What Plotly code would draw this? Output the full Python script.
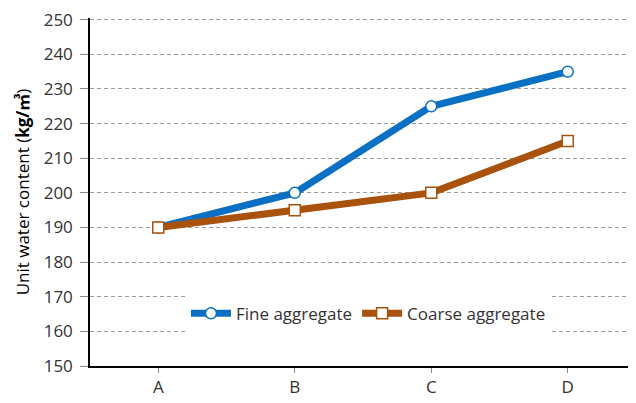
import plotly.graph_objs as go

categories = ['A', 'B', 'C', 'D']
fine_aggregate = [190, 200, 225, 235]
coarse_aggregate = [190, 195, 200, 215]

color_fine = '#0a70c4'
color_coarse = '#a9520c'
grid_color = '#9a9a9a'

fig = go.Figure()
fig.add_trace(go.Scatter(
    x=categories, y=fine_aggregate,
    mode='lines+markers',
    name='Fine aggregate',
    line=dict(color=color_fine, width=7),
    marker=dict(symbol='circle', size=11, color='white',
                line=dict(color=color_fine, width=1.5))
))
fig.add_trace(go.Scatter(
    x=categories, y=coarse_aggregate,
    mode='lines+markers',
    name='Coarse aggregate',
    line=dict(color=color_coarse, width=7),
    marker=dict(symbol='square', size=11, color='white',
                line=dict(color=color_coarse, width=1.5))
))

fig.update_xaxes(
    showline=True, linecolor='black', linewidth=1.5,
    ticks='outside', ticklen=5, tickcolor='#888',
    showgrid=False, range=[-0.5, 3.5],
    tickfont=dict(size=17, color='#333')
)
# range top nudged so plotly keeps the 250 gridline (it drops lines on the edge)
fig.update_yaxes(
    range=[150, 250.5], dtick=10,
    showline=True, linecolor='black', linewidth=1.5,
    ticks='outside', ticklen=8, tickcolor='#888',
    ticklabelstandoff=4, ticklabeloverflow='allow',
    showgrid=True, gridcolor=grid_color, gridwidth=1, griddash='4px,3px',
    zeroline=False,
    tickfont=dict(size=17, color='#333'),
    title=dict(text='Unit water content (<b>kg/㎥</b>)',
               font=dict(size=17, color='black'), standoff=10)
)

# the page body adds an 8px margin, so the figure is a little smaller than the window
fig.update_layout(
    width=628, height=395,
    margin=dict(l=82, r=0, t=6, b=37),
    plot_bgcolor='white', paper_bgcolor='white',
    font=dict(family='Open Sans, Noto Sans CJK KR, sans-serif'),
    legend=dict(orientation='h', x=0.51, xanchor='center', y=0.15, yanchor='middle',
                bgcolor='white', font=dict(size=17, color='#333'),
                itemwidth=40, tracegroupgap=0),
    showlegend=True
)

fig.write_html("out.html")
